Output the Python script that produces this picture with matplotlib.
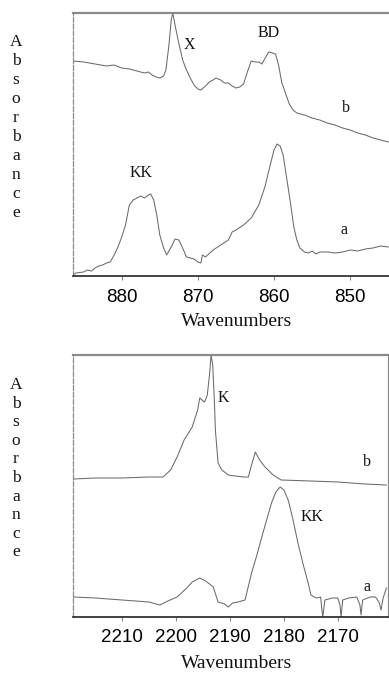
import matplotlib
matplotlib.use("Agg")
import matplotlib.pyplot as plt

# ---------------- data (arbitrary absorbance units) ----------------
top_b_w = [886.4, 885, 883.5, 882, 881, 880, 879, 878, 877, 876.5, 876, 875.5, 875, 874.5, 874.2,
           873.8, 873.5, 873.3, 873.0, 872.6, 872, 871.5, 871, 870.5, 870, 869.6, 869, 868.5, 868,
           867.6, 867, 866.5, 866, 865.5, 865, 864.5, 864, 863.5, 863, 862.5, 862, 861.6, 861,
           860.7, 860.2, 859.8, 859.4, 859, 858.5, 858, 857.5, 857, 856, 855, 854, 853, 852, 851,
           850, 849, 848, 847, 846, 845]
top_b_y = [215, 214, 212, 210, 211, 208, 207, 205, 203, 204, 201, 199, 198, 200, 206,
           231, 256, 263, 251, 236, 216, 206, 198, 191, 187, 186, 190, 194, 196,
           198, 196, 193, 193, 190, 188, 189, 192, 204, 215, 214, 214, 212, 220,
           224, 223, 222, 211, 194, 183, 172, 166, 163, 161, 158, 156, 153, 151, 148,
           146, 143, 141, 138, 136, 134]

top_a_w = [886.4, 886, 885, 884.5, 884, 883.5, 883, 882.5, 882, 881.5, 881, 880.5, 880, 879.5,
           879, 878.5, 878, 877.5, 877, 876.5, 876.2, 875.8, 875.4, 875, 874.5, 874.1, 873.5,
           873, 872.5, 872, 871.5, 871, 870.5, 870, 869.6, 869.4, 869, 868, 867, 866, 865.5,
           865, 864, 863, 862, 861.2, 860.5, 860, 859.6, 859.2, 858.8, 858.3, 857.8, 857.4,
           857, 856.6, 856, 855.5, 855, 854.5, 854, 853, 852, 851, 850, 849, 848, 847, 846, 845]
top_a_y = [1, 3, 4, 6, 5, 8, 10, 11, 13, 14, 21, 29, 39, 51,
           71, 76, 78, 80, 78, 81, 82, 76, 61, 41, 28, 21, 29,
           37, 36, 28, 19, 18, 17, 14, 13, 21, 19, 26, 31, 36, 44,
           46, 51, 58, 71, 89, 111, 126, 132, 130, 121, 96, 71, 49,
           36, 28, 24, 23, 25, 22, 24, 24, 23, 24, 26, 25, 27, 28, 30, 29]

bot_b_w = [2219, 2215, 2210, 2205, 2202.4, 2201, 2199.8, 2198.5, 2197, 2196, 2195.6, 2195.2,
           2194.7, 2194.2, 2193.8, 2193.5, 2193.2, 2192.9, 2192.7, 2192.4, 2192.2, 2191.5,
           2190.3, 2189, 2187.5, 2186.6, 2186, 2185.3, 2184.5, 2183.5, 2182, 2180.5, 2175,
           2170, 2165, 2161]
bot_b_y = [138, 139, 139, 140, 140, 147, 160, 177, 190, 207, 219, 217,
           215, 222, 242, 262, 252, 217, 187, 167, 154, 147,
           142, 141, 140, 140, 152, 165, 157, 150, 142, 137, 136,
           135, 133, 132]

bot_a_w = [2219, 2215, 2210, 2205, 2203, 2201.5, 2199.8, 2198, 2197, 2195.6, 2194.5, 2193.1,
           2192.2, 2191, 2190.3, 2189.5, 2188.5, 2187.2, 2186, 2185, 2184.1, 2183.2, 2182.3,
           2181.5, 2180.7, 2180, 2179.2, 2178.3, 2177.4, 2176.4, 2175.5, 2175, 2174, 2173.2,
           2172.8, 2172.4, 2171, 2170, 2169.6, 2169.4, 2169.1, 2168, 2166.5, 2165.9, 2165.7,
           2165.4, 2164, 2163, 2162.3, 2162, 2161.6, 2161]
bot_a_y = [20, 19, 17, 15, 12, 16, 20, 29, 35, 39, 36, 30,
           15, 13, 10, 14, 15, 17, 44, 62, 80, 97, 114,
           125, 130, 127, 117, 97, 74, 52, 34, 22, 19, 20,
           0, 17, 19, 19, 12, 0, 17, 19, 20, 12, 2,
           17, 20, 20, 14, 7, 19, 29]

top_ticks = [880, 870, 860, 850]
bot_ticks = [2210, 2200, 2190, 2180, 2170]
top_xlim = (886.4, 844.9)
bot_xlim = (2219.1, 2160.7)

top_notes = [("X", 871.1, 231), ("BD", 860.65, 243), ("KK", 877.4, 103), ("b", 850.6, 168), ("a", 850.85, 46)]
bot_notes = [("K", 2191.3, 219), ("b", 2164.6, 155), ("KK", 2174.8, 100), ("a", 2164.6, 30)]

# ---------------- figure ----------------
W, H = 389, 673
fig = plt.figure(figsize=(W / 100, H / 100), dpi=100)
serif = ["Liberation Serif", "DejaVu Serif"]
sans = ["Liberation Sans", "DejaVu Sans"]
line_col = "#6a6a6a"


def make_axes(rect, xlim, ylim, ticks, show_right):
    ax = fig.add_axes(rect)
    ax.set_xlim(*xlim)
    ax.set_ylim(*ylim)
    ax.set_xticks(ticks)
    ax.set_xticklabels([str(t) for t in ticks], fontfamily=sans, fontsize=13.5)
    ax.set_yticks([])
    ax.tick_params(axis="x", length=3, width=0.8, color="#888888", pad=6, direction="out")
    ax.spines["top"].set_color("#8a8a8a")
    ax.spines["top"].set_linewidth(1.6)
    ax.spines["left"].set_color("#8a8a8a")
    ax.spines["left"].set_linewidth(0.9)
    ax.spines["left"].set_linestyle((0, (4, 1.5)))
    ax.spines["bottom"].set_color("#222222")
    ax.spines["bottom"].set_linewidth(1.2)
    if show_right:
        ax.spines["right"].set_color("#8a8a8a")
        ax.spines["right"].set_linewidth(0.9)
    else:
        ax.spines["right"].set_visible(False)
    return ax


ax1 = make_axes([73 / W, 1 - 276 / H, 316 / W, 263 / H], top_xlim, (0, 263), top_ticks, False)
ax1.plot(top_b_w, top_b_y, color=line_col, lw=0.75)
ax1.plot(top_a_w, top_a_y, color=line_col, lw=0.75)
for s, x, y in top_notes:
    ax1.text(x, y, s, fontfamily=serif, fontsize=11.5, ha="center", va="center", color="#111111")

ax2 = make_axes([73 / W, 1 - 617 / H, 315 / W, 262 / H], bot_xlim, (0, 262), bot_ticks, True)
ax2.plot(bot_b_w, bot_b_y, color=line_col, lw=0.75)
ax2.plot(bot_a_w, bot_a_y, color=line_col, lw=0.75)
for s, x, y in bot_notes:
    ax2.text(x, y, s, fontfamily=serif, fontsize=11.5, ha="center", va="center", color="#111111")

# stacked y labels
word = "Absorbance"
for i, ch in enumerate(word):
    fig.text(16 / W, 1 - (42 + 19 * i) / H, ch, fontfamily=serif, fontsize=12.5,
             ha="center", va="center", color="#111111")
    fig.text(16 / W, 1 - (385 + 18.6 * i) / H, ch, fontfamily=serif, fontsize=12.5,
             ha="center", va="center", color="#111111")

fig.text(237 / W, 1 - 321 / H, "Wavenumbers", fontfamily=serif, fontsize=14,
         ha="center", va="center", color="#111111")
fig.text(237 / W, 1 - 664 / H, "Wavenumbers", fontfamily=serif, fontsize=14,
         ha="center", va="center", color="#111111")

fig.savefig("out.png", dpi=100)
